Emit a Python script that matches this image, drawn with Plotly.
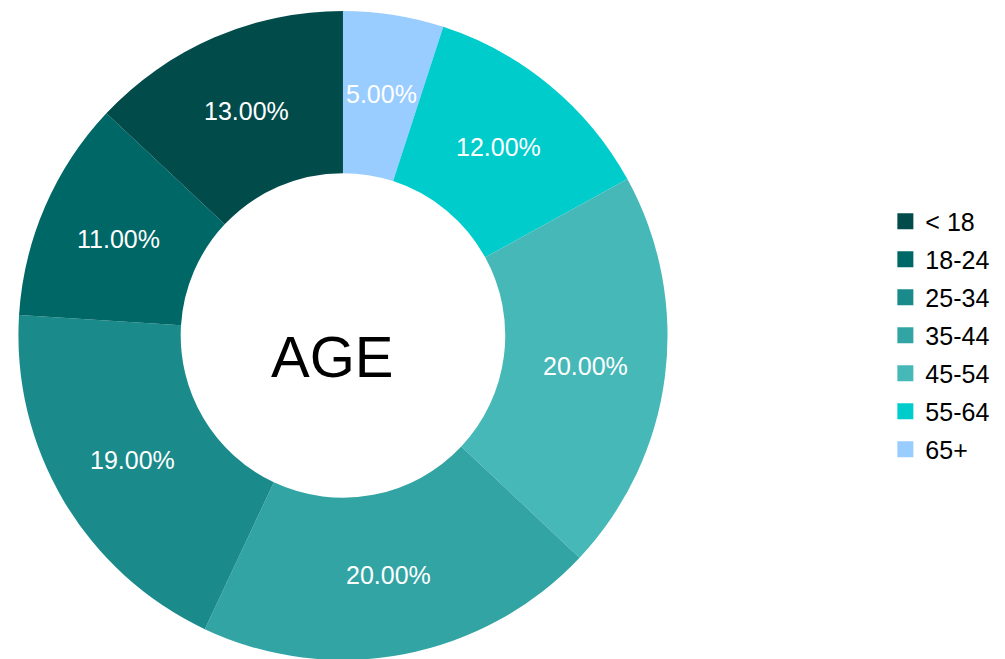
import math
import plotly.graph_objects as go

labels = ["< 18", "18-24", "25-34", "35-44", "45-54", "55-64", "65+"]
values = [13, 11, 19, 20, 20, 12, 5]
colors = ["#024b4b", "#006767", "#1a8a8a", "#33a4a4", "#47b8b8", "#00cccc", "#99ccff"]

FONT = "Liberation Sans, Arial, sans-serif"
W, H = 1005, 659
DX = [0.0099, 0.6567]
DY = [0.0106, 0.9956]

fig = go.Figure()
fig.add_trace(go.Pie(
    labels=labels[::-1], values=values[::-1], sort=False, direction="clockwise", rotation=0,
    hole=0.5, marker=dict(colors=colors[::-1], line=dict(width=0)),
    textinfo="none", showlegend=False, hoverinfo="label+percent",
    domain=dict(x=DX, y=DY),
))
for lab, col in zip(labels, colors):
    fig.add_trace(go.Scatter(
        x=[None], y=[None], mode="markers", name=lab, legendgroup=lab,
        marker=dict(symbol="square", size=16, color=col),
    ))

# percentage labels placed at the middle of each ring segment (counterclockwise from top)
cx, cy = sum(DX) / 2, sum(DY) / 2
R = min((DX[1] - DX[0]) * W, (DY[1] - DY[0]) * H) / 2
r_lab = 0.752 * R
total = sum(values)
cum = 0
for v in values:
    th = 2 * math.pi * (cum + v / 2) / total
    cum += v
    fig.add_annotation(text=f"{100 * v / total:.2f}%",
                       x=cx - r_lab * math.sin(th) / W, y=cy + r_lab * math.cos(th) / H,
                       xref="paper", yref="paper", showarrow=False,
                       font=dict(size=25, family=FONT, color="white"),
                       xanchor="center", yanchor="middle")

fig.add_annotation(text="AGE", x=cx - 10 / W, y=cy - 21 / H, xref="paper", yref="paper",
                   showarrow=False, font=dict(size=58, family=FONT, color="black"),
                   xanchor="center", yanchor="middle")

fig.update_layout(
    width=W, height=H, margin=dict(l=0, r=0, t=0, b=0),
    paper_bgcolor="white", plot_bgcolor="white",
    xaxis=dict(visible=False), yaxis=dict(visible=False),
    legend=dict(x=0.873, y=0.503, xanchor="left", yanchor="middle", tracegroupgap=2.5,
                font=dict(size=25, family=FONT, color="black"), itemwidth=30),
)
fig.write_html("out.html")
